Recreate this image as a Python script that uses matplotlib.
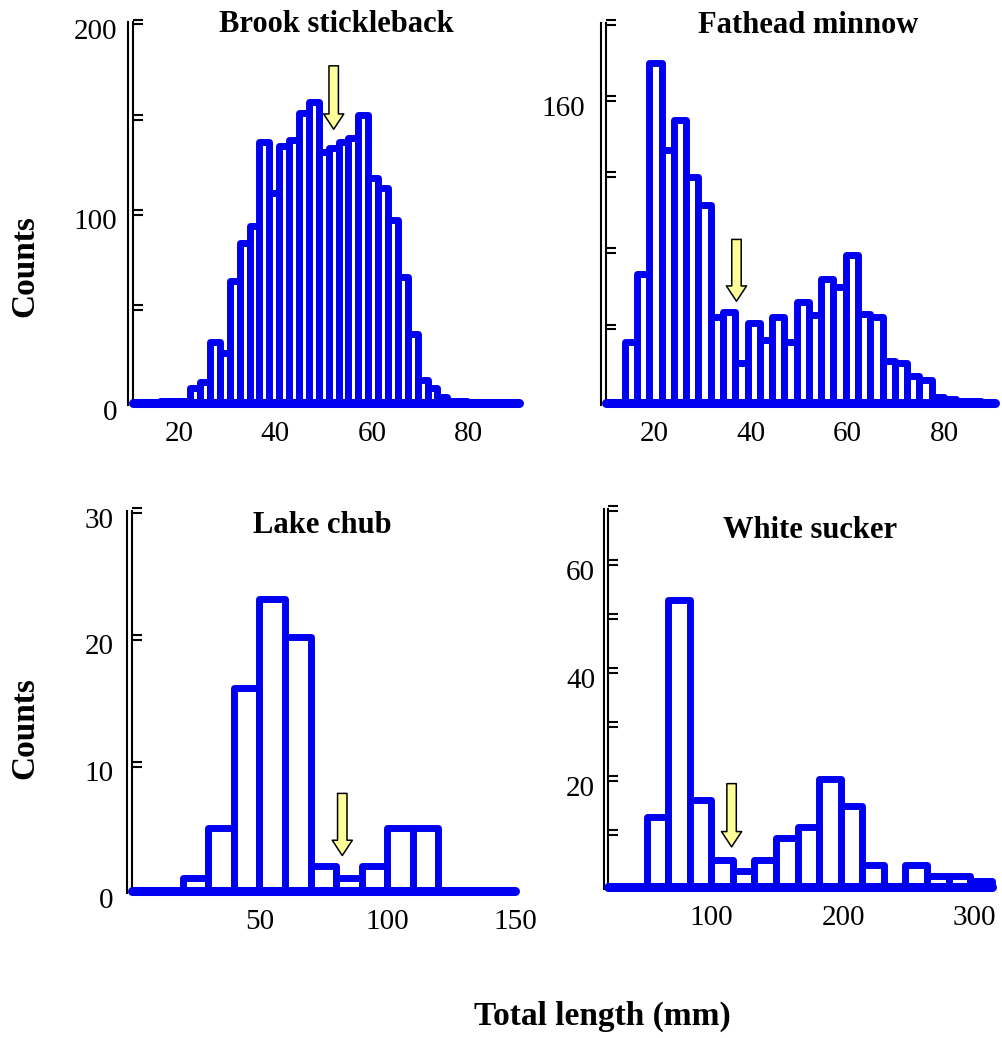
"""
Length-frequency histograms for four fish species (2 x 2 panels).

Each panel: thick blue outlined bars, a yellow arrow marking the cut-off
length, a double-lined y axis with "=" tick marks.
"""

import numpy as np
import matplotlib.pyplot as plt
from matplotlib.transforms import offset_copy, ScaledTranslation

plt.rcParams['font.family'] = ['Liberation Serif', 'DejaVu Serif']

BLUE         = '#0000f0'
ARROW_YELLOW = '#ffff99'
BAR_LW       = 5.0
BASE_LW      = 6.5
AXIS_LW      = 1.5

# ── Data ──────────────────────────────────────────────────────────────────────

SPECIES = ["Brook stickleback", "Fathead minnow", "Lake chub", "White sucker"]

# bin start (mm), bin width (mm), counts per bin
BROOK_START, BROOK_WIDTH = 12.1, 2.05
BROOK_COUNTS = [0, 0, 1, 1, 1, 8, 11, 32, 26, 64, 84, 93, 137, 110, 135, 138,
                152, 158, 132, 134, 137, 139, 151, 118, 113, 96, 66, 36, 12, 8,
                3, 1, 1, 0, 0, 0, 0, 0]

FATHEAD_START, FATHEAD_WIDTH = 13.9, 2.54
FATHEAD_COUNTS = [32, 68, 179, 133, 149, 119, 104, 45, 48, 21, 42, 33, 45, 32,
                  53, 46, 65, 61, 78, 47, 45, 22, 21, 14, 12, 3, 2, 1, 1]

CHUB_START, CHUB_WIDTH = 0, 10
CHUB_COUNTS = [0, 0, 1, 5, 16, 23, 20, 2, 1, 2, 5, 5, 0, 0, 0]

SUCKER_START, SUCKER_WIDTH = 50.6, 16.4
SUCKER_COUNTS = [13, 53, 16, 5, 3, 5, 9, 11, 20, 15, 4, 0, 4, 2, 2, 1]

# yellow arrows: x position, top and tip (counts)
ARROW_X   = [52.1, 37.0, 82.4, 115.2]
ARROW_TOP = [177, 86, 7.7, 19.1]
ARROW_TIP = [143.7, 53.5, 2.8, 7.4]

# axis ranges and ticks
XLIMS        = [(10.5, 90.5), (10.0, 90.5), (0, 150), (21.5, 313)]
YMAX         = [200, 200, 30, 70]
XTICKS       = [[20, 40, 60, 80], [20, 40, 60, 80], [50, 100, 150], [100, 200, 300]]
YTICK_LABELS = [[0, 100, 200], [160], [0, 10, 20, 30], [20, 40, 60]]
YTICK_MARKS  = [[50, 100, 150, 200], [40, 80, 120, 160, 200],
                [10, 20, 30], [10, 20, 30, 40, 50, 60, 70]]

# ── Layout (figure fractions) ─────────────────────────────────────────────────

AX_RECTS = [
    [0.1326, 0.6118, 0.3848, 0.3670],
    [0.6042, 0.6118, 0.3878, 0.3664],
    [0.1313, 0.1416, 0.3822, 0.3664],
    [0.6065, 0.1456, 0.3823, 0.3645],
]
TITLE_POS = [(0.526, 0.974), (0.519, 0.974), (0.497, 0.942), (0.526, 0.921)]
YPAD      = [11.5, 15, 13, 9.5]


def draw_panel(fig, ax, i, start, width, counts):
    edges = start + width * np.arange(len(counts))
    ax.bar(edges, counts, width=width, align='edge', facecolor='white',
           edgecolor=BLUE, linewidth=BAR_LW, joinstyle='round',
           clip_on=False, zorder=2)
    ax.axhline(0, color=BLUE, lw=BASE_LW, solid_capstyle='round',
               clip_on=False, zorder=3)

    ax.set_xlim(*XLIMS[i])
    ax.set_ylim(0, YMAX[i])

    # spines: only the left one, doubled
    for side in ('top', 'right', 'bottom'):
        ax.spines[side].set_visible(False)
    ax.spines['left'].set_linewidth(AXIS_LW)
    outer = offset_copy(ax.transAxes, fig=fig, x=-3.4, units='points')
    ax.plot([0, 0], [-0.006, 1], transform=outer, color='black', lw=AXIS_LW,
            clip_on=False)

    # "=" tick marks
    for dy in (-1.7, 1.7):
        trans = offset_copy(ax.get_yaxis_transform(), fig=fig, y=dy, units='points')
        for v in YTICK_MARKS[i]:
            ax.plot([0, 0.026], [v, v], transform=trans, color='black',
                    lw=AXIS_LW, clip_on=False, solid_capstyle='butt')

    ax.set_xticks(XTICKS[i])
    ax.set_yticks(YTICK_LABELS[i])
    ax.tick_params(axis='x', length=0, pad=13, labelsize=21)
    ax.tick_params(axis='y', length=0, pad=YPAD[i], labelsize=21)
    shift = ScaledTranslation(0, -5 / 72, fig.dpi_scale_trans)
    for lbl in ax.get_yticklabels():
        lbl.set_transform(lbl.get_transform() + shift)

    ax.text(*TITLE_POS[i], SPECIES[i], transform=ax.transAxes, ha='center',
            va='baseline', fontsize=22, fontweight='bold')

    ax.annotate('', xy=(ARROW_X[i], ARROW_TIP[i]), xytext=(ARROW_X[i], ARROW_TOP[i]),
                arrowprops=dict(arrowstyle='simple,head_length=1.1,head_width=1.45,tail_width=0.68',
                                facecolor=ARROW_YELLOW, edgecolor='black',
                                linewidth=1.1, shrinkA=0, shrinkB=0,
                                mutation_scale=10),
                zorder=5)


def main():
    fig = plt.figure(figsize=(10.03, 10.38), dpi=100)

    panels = [
        (BROOK_START, BROOK_WIDTH, BROOK_COUNTS),
        (FATHEAD_START, FATHEAD_WIDTH, FATHEAD_COUNTS),
        (CHUB_START, CHUB_WIDTH, CHUB_COUNTS),
        (SUCKER_START, SUCKER_WIDTH, SUCKER_COUNTS),
    ]
    for i, (start, width, counts) in enumerate(panels):
        ax = fig.add_axes(AX_RECTS[i])
        draw_panel(fig, ax, i, start, width, counts)

    # ── Shared labels ─────────────────────────────────────────────────────────
    for y in (0.7437, 0.2987):
        fig.text(0.025, y, "Counts", rotation=90, ha='center', va='center',
                 fontsize=24, fontweight='bold')
    fig.text(0.6007, 0.0125, "Total length (mm)", ha='center', va='baseline',
             fontsize=24, fontweight='bold')

    fig.savefig("out.png", dpi=100)


if __name__ == "__main__":
    main()
